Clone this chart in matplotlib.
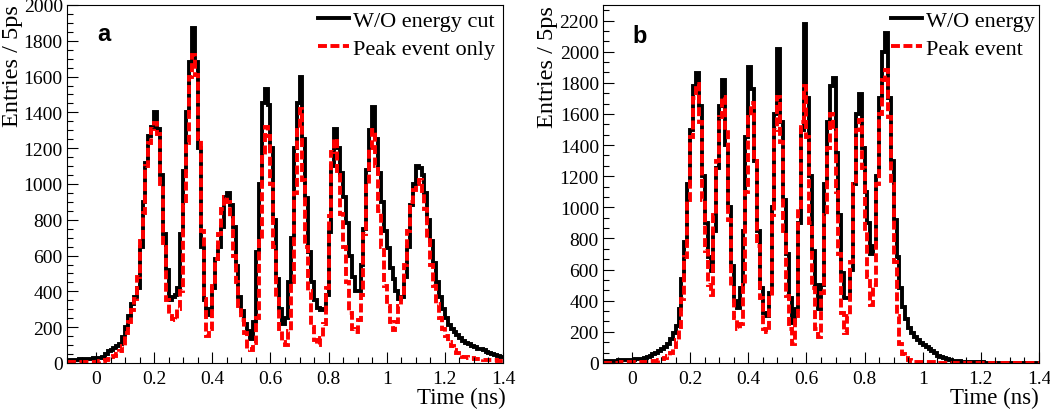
import numpy as np
import matplotlib
matplotlib.use("Agg")
import matplotlib.pyplot as plt
from matplotlib.lines import Line2D
from matplotlib.ticker import MultipleLocator, AutoMinorLocator, FuncFormatter

plt.rcParams['font.family'] = ['Liberation Serif', 'DejaVu Serif']

bin_edges = np.round(np.arange(-0.10, 1.405, 0.01), 2)

a_no_cut = [
    13, 15, 16, 18, 20, 22, 23, 24, 25, 26,
    27, 29, 35, 50, 68, 75, 86, 95, 108, 145,
    200, 260, 330, 370, 420, 650, 900, 1120, 1270, 1320,
    1400, 1310, 1050, 720, 520, 350, 370, 380, 420, 720,
    1070, 1400, 1680, 1870, 1680, 1200, 650, 350, 270, 300,
    420, 580, 650, 760, 930, 950, 880, 760, 540, 370,
    290, 220, 180, 135, 230, 620, 1000, 1450, 1530, 1440,
    1200, 800, 470, 300, 220, 250, 450, 700, 1200, 1450,
    1600, 1250, 920, 620, 450, 350, 310, 295, 300, 380,
    730, 1100, 1310, 1200, 1060, 930, 780, 600, 480, 400,
    400, 550, 750, 1080, 1300, 1430, 1250, 1060, 900, 740,
    640, 530, 470, 400, 360, 370, 480, 650, 880, 1000,
    1100, 1090, 1050, 950, 800, 680, 560, 450, 370, 300,
    250, 215, 190, 172, 155, 140, 125, 112, 104, 97,
    90, 80, 76, 70, 64, 58, 52, 46, 40, 34,
]
a_peak = [
    5, 5, 5, 5, 6, 6, 6, 7, 7, 8,
    8, 10, 12, 16, 22, 32, 40, 48, 65, 97,
    165, 230, 295, 360, 480, 680, 840, 1100, 1230, 1310,
    1340, 1280, 1000, 650, 350, 265, 245, 240, 300, 400,
    880, 1230, 1600, 1720, 1610, 1250, 740, 360, 150, 190,
    430, 580, 720, 860, 930, 900, 810, 600, 450, 320,
    240, 170, 80, 70, 110, 250, 680, 1150, 1320, 1270,
    1000, 650, 360, 180, 115, 100, 180, 450, 950, 1300,
    1420, 1020, 650, 400, 200, 130, 100, 140, 220, 420,
    820, 1180, 1250, 1050, 830, 650, 450, 280, 190, 172,
    240, 380, 720, 1000, 1200, 1300, 1100, 850, 650, 430,
    320, 230, 185, 230, 320, 390, 550, 740, 900, 965,
    1000, 1025, 960, 860, 700, 550, 430, 330, 250, 190,
    150, 120, 95, 72, 55, 44, 36, 31, 28, 26,
    24, 22, 21, 19, 18, 16, 15, 14, 13, 12,
]
b_no_cut = [
    12, 13, 14, 15, 16, 17, 18, 19, 20, 21,
    22, 24, 26, 28, 33, 40, 47, 55, 65, 75,
    90, 105, 120, 155, 190, 240, 350, 540, 780, 1150,
    1500, 1780, 1860, 1650, 1200, 900, 680, 590, 850, 1250,
    1650, 1820, 1400, 1000, 620, 400, 355, 480, 850, 1450,
    1900, 1760, 1300, 850, 480, 320, 300, 450, 1000, 1600,
    2020, 1550, 1050, 700, 420, 260, 350, 900, 1500, 2180,
    1700, 1200, 720, 500, 350, 500, 1150, 1550, 1780, 1830,
    1350, 950, 580, 420, 420, 600, 1150, 1600, 1730, 1380,
    1100, 900, 700, 750, 1200, 1700, 2000, 2120, 1700, 1300,
    920, 680, 480, 360, 285, 225, 195, 170, 145, 128,
    115, 100, 88, 75, 62, 45, 36, 30, 25, 20,
    16, 13, 10, 8, 7, 6, 5, 5, 4, 4,
    4, 3, 3, 3, 3, 2, 2, 2, 2, 2,
    2, 2, 1, 1, 1, 1, 1, 1, 1, 1,
]
b_peak = [
    3, 3, 3, 3, 3, 3, 4, 4, 4, 5,
    5, 5, 6, 6, 7, 8, 10, 12, 15, 20,
    26, 35, 45, 65, 100, 150, 230, 410, 680, 1050,
    1450, 1700, 1790, 1550, 1050, 720, 500, 440, 950, 1300,
    1580, 1710, 1500, 920, 480, 290, 220, 250, 500, 1100,
    1580, 1670, 1300, 750, 420, 220, 200, 420, 950, 1500,
    1710, 1420, 850, 430, 220, 120, 300, 1000, 1550, 1780,
    1450, 900, 480, 220, 170, 450, 950, 1380, 1600, 1500,
    1100, 700, 320, 195, 300, 650, 1150, 1500, 1560, 1250,
    850, 550, 370, 500, 1150, 1600, 1820, 1880, 1580, 1150,
    650, 300, 120, 60, 30, 18, 12, 9, 7, 6,
    5, 5, 4, 4, 4, 3, 3, 3, 3, 3,
    2, 2, 2, 2, 2, 2, 2, 2, 2, 2,
    2, 2, 1, 1, 1, 1, 1, 1, 1, 1,
    1, 1, 1, 1, 1, 1, 1, 1, 1, 1,
]

labels_a = ['W/O energy cut', 'Peak event only']
labels_b = ['W/O energy', 'Peak event']

LW = 2.8
RED_DASH = (0, (2.3, 0.9))


def fmt_tick(v, pos):
    if abs(v) < 1e-9:
        return '0'
    return f'{round(v, 2):g}'


def style_axis(ax, ymax, y_minor):
    ax.set_xlim(-0.1, 1.4)
    ax.set_ylim(0, ymax)
    ax.xaxis.set_major_locator(MultipleLocator(0.2))
    ax.xaxis.set_minor_locator(MultipleLocator(0.05))
    ax.xaxis.set_major_formatter(FuncFormatter(fmt_tick))
    ax.yaxis.set_major_locator(MultipleLocator(200))
    ax.yaxis.set_minor_locator(y_minor)
    ax.tick_params(which='both', direction='in', top=False, right=False,
                   labelsize=14, width=0.8)
    ax.tick_params(which='major', length=8)
    ax.tick_params(which='minor', length=4)
    ax.tick_params(axis='x', pad=5)
    ax.tick_params(axis='y', pad=3)
    for lab in ax.get_xticklabels() + ax.get_yticklabels():
        lab.set_family('Liberation Serif')
    for s in ax.spines.values():
        s.set_linewidth(0.8)


def draw_panel(ax, black, red, labels, legend_x):
    ax.stairs(black, bin_edges, baseline=None, color='black', lw=LW)
    ax.stairs(red, bin_edges, baseline=None, color='red', lw=LW, linestyle=RED_DASH)
    handles = [Line2D([], [], color='black', lw=LW),
               Line2D([], [], color='red', lw=LW, linestyle=RED_DASH)]
    ax.legend(handles, labels, loc='upper right', bbox_to_anchor=(legend_x, 0.985),
              bbox_transform=ax.transAxes, frameon=False, fontsize=16,
              handlelength=1.4, handletextpad=0.2, labelspacing=0.35,
              borderaxespad=0, borderpad=0)


fig = plt.figure(figsize=(10.5, 4.1), dpi=100)
ax_a = fig.add_axes([0.0638, 0.1122, 0.4152, 0.8732])
ax_b = fig.add_axes([0.5743, 0.1122, 0.4152, 0.8732])

draw_panel(ax_a, a_no_cut, a_peak, labels_a, 0.982)
style_axis(ax_a, 2000, MultipleLocator(50))

draw_panel(ax_b, b_no_cut, b_peak, labels_b, 0.991)
style_axis(ax_b, 2300, AutoMinorLocator(3))

# axis titles, ROOT style (top / right aligned)
fig.text(0.0115, 0.988, 'Entries / 5ps', rotation=90, ha='center', va='top', fontsize=17.5)
fig.text(0.521, 0.985, 'Entries / 5ps', rotation=90, ha='center', va='top', fontsize=17.5)
fig.text(0.482, 0.029, 'Time (ns)', ha='right', va='center', fontsize=16.5)
fig.text(0.989, 0.029, 'Time (ns)', ha='right', va='center', fontsize=16.5)

# panel letters
fig.text(0.099, 0.915, 'a', family='Liberation Sans', fontweight='bold',
         fontsize=17, ha='center', va='center')
fig.text(0.6095, 0.912, 'b', family='Liberation Sans', fontweight='bold',
         fontsize=17, ha='center', va='center')

fig.savefig('out.png', dpi=100)
